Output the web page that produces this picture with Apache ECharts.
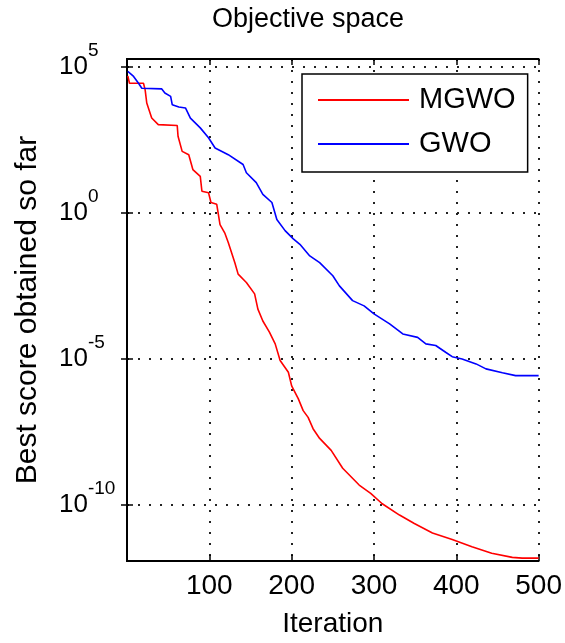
<!DOCTYPE html>
<html>
<head>
<meta charset="utf-8">
<script src="https://cdn.jsdelivr.net/npm/echarts@6/dist/echarts.min.js"></script>
<style>
html,body{margin:0;padding:0;background:#fff;}
#chart{width:565px;height:643px;}
</style>
</head>
<body>
<div id="chart"></div>
<script>
// ---- data ----
var titleText = 'Objective space';
var xName = 'Iteration';
var yName = 'Best score obtained so far';
var seriesNames = ['MGWO', 'GWO'];

var mgwoIter = [1, 3, 20, 22, 24, 30, 38, 61, 62, 67, 75, 80, 89, 91, 99, 102, 109, 113, 119, 123, 131, 135, 145, 155, 159, 165, 173, 180, 186, 196, 200, 208, 214, 220, 226, 234, 248, 262, 282, 296, 310, 331, 349, 371, 395, 419, 443, 468, 480, 500];
var mgwoVal = [5.0e4, 2.8e4, 2.8e4, 1.7e4, 5.9e3, 1.8e3, 1.07e3, 1.0e3, 4.3e2, 1.3e2, 1.0e2, 31, 18, 5.6, 5.0, 2.3, 2.0, 0.4, 0.2, 0.098, 0.02, 8.1e-3, 4.2e-3, 1.7e-3, 5.1e-4, 2.0e-4, 8.3e-5, 3.3e-5, 8.9e-6, 3.5e-6, 1.2e-6, 4.4e-7, 1.7e-7, 1.0e-7, 4.1e-8, 1.9e-8, 7.4e-9, 1.8e-9, 4.8e-10, 2.5e-10, 1.1e-10, 4.5e-11, 2.3e-11, 1.1e-11, 6.6e-12, 3.7e-12, 2.2e-12, 1.6e-12, 1.5e-12, 1.5e-12];

var gwoIter = [1, 8, 14, 18, 42, 46, 53, 55, 63, 71, 77, 89, 99, 107, 123, 141, 145, 157, 165, 176, 182, 192, 202, 210, 222, 234, 250, 258, 274, 288, 300, 319, 335, 353, 363, 375, 387, 395, 407, 424, 436, 456, 472, 500];
var gwoVal = [7.1e4, 4.8e4, 2.8e4, 1.9e4, 1.8e4, 1.3e4, 1.0e4, 5.1e3, 4.3e3, 4.0e3, 1.8e3, 8.3e2, 3.8e2, 1.7e2, 1.0e2, 46, 24, 11, 4.4, 2.3, 0.6, 0.25, 0.13, 0.085, 0.034, 0.02, 7.1e-3, 3.2e-3, 1.0e-3, 6.6e-4, 3.5e-4, 1.6e-4, 7.2e-5, 5.5e-5, 3.3e-5, 2.9e-5, 1.7e-5, 1.2e-5, 1.0e-5, 6.8e-6, 4.6e-6, 3.4e-6, 2.7e-6, 2.7e-6];

var xMin = 0, xMax = 500, xStep = 100;
var yMin = 1.2e-12, yMax = 1.9e5;
var yTicks = [1e-10, 1e-5, 1, 1e5];

// ---- build ----
function pairs(xs, ys) { return xs.map(function (x, i) { return [x, ys[i]]; }); }
var FONT = "'Liberation Sans', Arial, sans-serif";
var dotted = { color: '#222', width: 2, type: [2, 9] };

var chart = echarts.init(document.getElementById('chart'), null, { renderer: 'canvas' });
chart.setOption({
  backgroundColor: '#fff',
  animation: false,
  textStyle: { fontFamily: FONT },
  title: {
    text: titleText, left: 212, top: 6, padding: 0,
    textStyle: { fontFamily: FONT, fontSize: 27, fontWeight: 'normal', color: '#000' }
  },
  legend: {
    orient: 'vertical', left: 302, top: 74,
    data: seriesNames,
    icon: 'rect', itemWidth: 91, itemHeight: 2, itemGap: 14,
    padding: [11, 12, 13, 16],
    borderColor: '#000', borderWidth: 1.5, backgroundColor: '#fff',
    textStyle: { fontFamily: FONT, fontSize: 29, lineHeight: 30, color: '#000', padding: [0, 0, 0, 5] }
  },
  grid: { left: 127, right: 25, top: 59, bottom: 80, containLabel: false },
  xAxis: [{
    type: 'value', min: xMin, max: xMax, interval: xStep, position: 'bottom',
    name: xName, nameLocation: 'middle', nameGap: 49,
    nameTextStyle: { fontFamily: FONT, fontSize: 28, color: '#000' },
    axisLine: { show: true, lineStyle: { color: '#000', width: 2 } },
    axisTick: { show: true, inside: true, length: 6, lineStyle: { color: '#000', width: 1.5 } },
    axisLabel: { showMinLabel: false, fontFamily: FONT, fontSize: 28, color: '#000', margin: 11 },
    splitLine: { show: true, lineStyle: dotted }
  }, {
    type: 'value', min: xMin, max: xMax, interval: xStep, position: 'top',
    axisLine: { show: true, lineStyle: { color: '#000', width: 2 } },
    axisTick: { show: true, inside: true, length: 6, lineStyle: { color: '#000', width: 1.5 } },
    axisLabel: { show: false }, splitLine: { show: false }
  }],
  yAxis: [{
    type: 'log', logBase: 10, min: yMin, max: yMax, position: 'left',
    name: yName, nameLocation: 'middle', nameGap: 84,
    nameTextStyle: { fontFamily: FONT, fontSize: 30, color: '#000' },
    axisLine: { show: true, lineStyle: { color: '#000', width: 2 } },
    axisTick: { show: true, inside: true, length: 6, customValues: yTicks, lineStyle: { color: '#000', width: 1.5 } },
    axisLabel: {
      customValues: yTicks, align: 'left', margin: 68,
      formatter: function (v) { return '{b|10}{s|' + Math.round(Math.log10(v)) + '}'; },
      rich: {
        b: { fontFamily: FONT, fontSize: 26, lineHeight: 52, color: '#000', verticalAlign: 'middle' },
        s: { fontFamily: FONT, fontSize: 19, lineHeight: 19, color: '#000', verticalAlign: 'top' }
      }
    },
    splitLine: { show: true, lineStyle: dotted }
  }, {
    type: 'log', logBase: 10, min: yMin, max: yMax, position: 'right',
    axisLine: { show: true, lineStyle: { color: '#000', width: 2 } },
    axisTick: { show: true, inside: true, length: 6, customValues: yTicks, lineStyle: { color: '#000', width: 1.5 } },
    axisLabel: { show: false }, splitLine: { show: false }
  }],
  series: [{
    name: seriesNames[0], type: 'line', data: pairs(mgwoIter, mgwoVal),
    showSymbol: false, symbol: 'none', color: '#ff0000',
    lineStyle: { color: '#ff0000', width: 1.6 }
  }, {
    name: seriesNames[1], type: 'line', data: pairs(gwoIter, gwoVal),
    showSymbol: false, symbol: 'none', color: '#0000ff',
    lineStyle: { color: '#0000ff', width: 1.6 }
  }]
});
</script>
</body>
</html>
